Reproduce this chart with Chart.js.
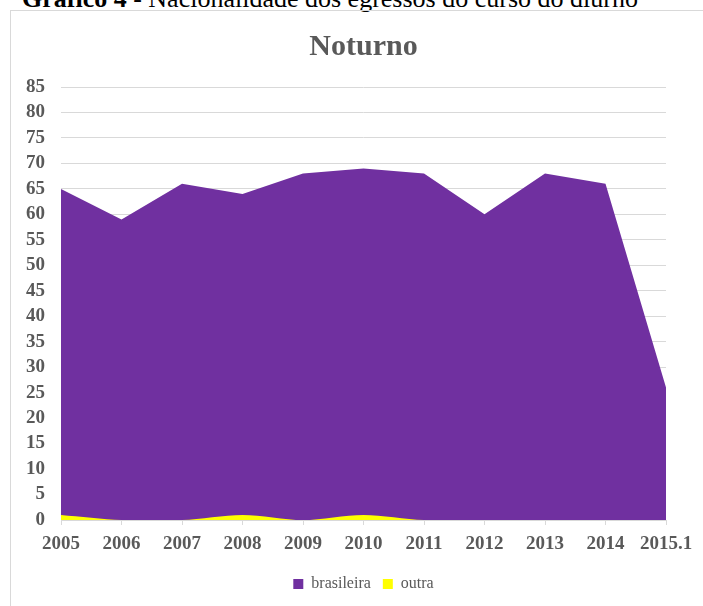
<!DOCTYPE html>
<html>
<head>
<meta charset="utf-8">
<script src="https://cdn.jsdelivr.net/npm/chart.js@4/dist/chart.umd.min.js"></script>
<style>
  html, body { margin: 0; padding: 0; background: #fff; overflow: hidden; }
  #wrap { position: relative; width: 703px; height: 606px; overflow: hidden; }
  #caption {
    position: absolute; left: 22px; top: -14px; white-space: nowrap;
    font-family: "Liberation Serif", serif; font-size: 26px; line-height: 1; color: #000;
  }
  #frame {
    position: absolute; left: 10px; top: 10px; width: 720px; height: 620px;
    border: 1px solid #d9d9d9; box-sizing: border-box;
  }
  #chart { position: absolute; left: 0; top: 0; }
</style>
</head>
<body>
<div id="wrap">
  <div id="caption"><b>Gráfico 4</b> - Nacionalidade dos egressos do curso do diurno</div>
  <div id="frame"></div>
  <canvas id="chart" width="703" height="606"></canvas>
</div>
<script>
const anos = ['2005', '2006', '2007', '2008', '2009', '2010', '2011', '2012', '2013', '2014', '2015.1'];
const brasileira = [65, 59, 66, 64, 68, 69, 68, 60, 68, 66, 26];
const outra = [1, 0, 0, 1, 0, 1, 0, 0, 0, 0, 0];

const cinza = '#595959';
const serif = '"Liberation Serif", "Times New Roman", serif';

const ctx = document.getElementById('chart').getContext('2d');
new Chart(ctx, {
  type: 'line',
  data: {
    labels: anos,
    datasets: [{
      label: 'brasileira',
      data: brasileira,
      borderWidth: 0,
      borderColor: '#7030a0',
      backgroundColor: '#7030a0',
      fill: 'origin',
      pointRadius: 0,
      tension: 0,
      order: 2
    }, {
      label: 'outra',
      data: outra,
      borderWidth: 0,
      borderColor: '#ffff00',
      backgroundColor: '#ffff00',
      fill: 'origin',
      pointRadius: 0,
      tension: 0.3,
      order: 1
    }]
  },
  options: {
    responsive: false,
    animation: false,
    layout: { padding: { top: 9, right: 37, bottom: 4, left: 0 } },
    scales: {
      x: {
        grid: { drawOnChartArea: false, color: '#d9d9d9', tickLength: 5 },
        border: { color: '#d9d9d9' },
        ticks: { color: cinza, padding: 8, maxRotation: 0, autoSkip: false,
                 font: { family: serif, size: 19, weight: 'bold' } },
        afterFit: s => { s.height = 44; }
      },
      y: {
        min: 0, max: 85,
        grid: { color: '#d9d9d9', drawTicks: false },
        border: { display: false },
        ticks: { stepSize: 5, autoSkip: false, color: cinza, padding: 16,
                 font: { family: serif, size: 19, weight: 'bold' } },
        afterFit: s => { s.width = 61; }
      }
    },
    plugins: {
      // fullSize false: title and legend are centred over the plot, not the canvas
      title: {
        display: true, text: 'Noturno', color: cinza, fullSize: false,
        font: { family: serif, size: 30, weight: 'bold' },
        padding: { top: 20, bottom: 22 }
      },
      legend: {
        position: 'bottom',
        fullSize: false,
        labels: {
          boxWidth: 10, boxHeight: 10, color: cinza, padding: 12,
          font: { family: serif, size: 16 },
          sort: (a, b) => a.datasetIndex - b.datasetIndex
        }
      },
      tooltip: { enabled: false }
    }
  }
});
</script>
</body>
</html>
